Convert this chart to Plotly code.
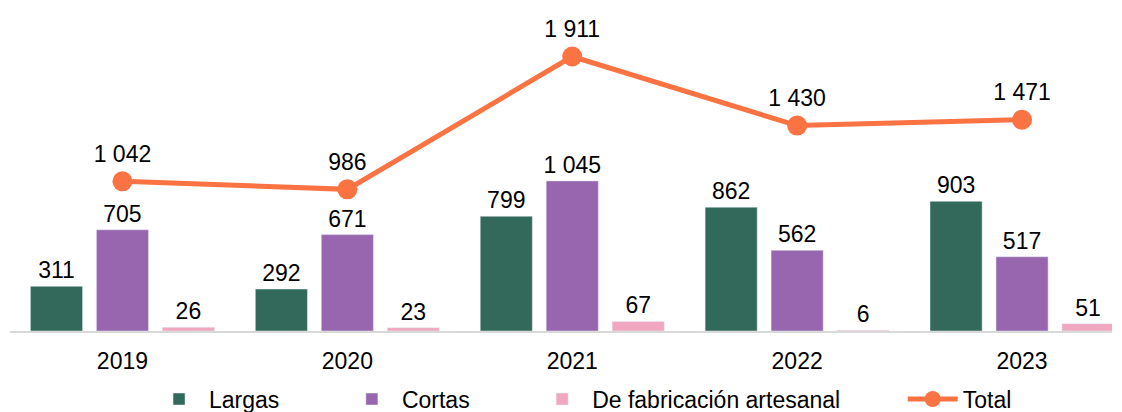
import plotly.graph_objects as go

years = ["2019", "2020", "2021", "2022", "2023"]
largas = [311, 292, 799, 862, 903]
cortas = [705, 671, 1045, 562, 517]
artesanal = [26, 23, 67, 6, 51]
total = [1042, 986, 1911, 1430, 1471]

FONT = "Liberation Sans, Arial, sans-serif"
SIZE = 23
PAD = "\u00a0" * 9  # widen the gaps between legend entries

fig = go.Figure()
fig.add_trace(go.Bar(x=years, y=largas, name="Largas" + PAD, marker_color="#33695A",
                     texttemplate="%{y:,}", textposition="outside"))
fig.add_trace(go.Bar(x=years, y=cortas, name="Cortas" + PAD, marker_color="#9866AE",
                     texttemplate="%{y:,}", textposition="outside"))
fig.add_trace(go.Bar(x=years, y=artesanal, name="De fabricación artesanal" + PAD,
                     marker_color="#F0A7BF", texttemplate="%{y:,}",
                     textposition="outside"))
fig.add_trace(go.Scatter(x=years, y=total, name="Total", mode="lines+markers+text",
                         line=dict(color="#FB7343", width=5),
                         marker=dict(size=20, color="#FB7343"),
                         texttemplate="%{y:,}", textposition="top center"))

# page body has an 8px margin, so the figure is offset by 8px
fig.update_layout(
    width=1114, height=404,
    margin=dict(l=2, r=10, t=7, b=81, autoexpand=False),
    paper_bgcolor="white", plot_bgcolor="white",
    font=dict(family=FONT, size=SIZE, color="black"),
    separators=", ",
    barmode="group", bargap=0.12, bargroupgap=0.21,
    showlegend=True,
    legend=dict(orientation="h", x=0.52, xanchor="center", yref="container",
                y=0.032, yanchor="middle", font=dict(size=SIZE), itemwidth=50,
                traceorder="normal"),
)
fig.update_traces(textfont=dict(size=SIZE, color="black"), cliponaxis=False,
                  constraintext="none", selector=dict(type="bar"))
fig.update_traces(textfont=dict(size=SIZE, color="black"), cliponaxis=False,
                  selector=dict(type="scatter"))
fig.update_xaxes(range=[-0.5, 4.4], showline=True, linecolor="#D9D9D9", linewidth=2,
                 ticks="", tickfont=dict(size=SIZE), ticklabelstandoff=8,
                 showgrid=False, automargin=False)
fig.update_yaxes(range=[0, 2200], visible=False, showgrid=False, automargin=False)

fig.write_html("out.html")
